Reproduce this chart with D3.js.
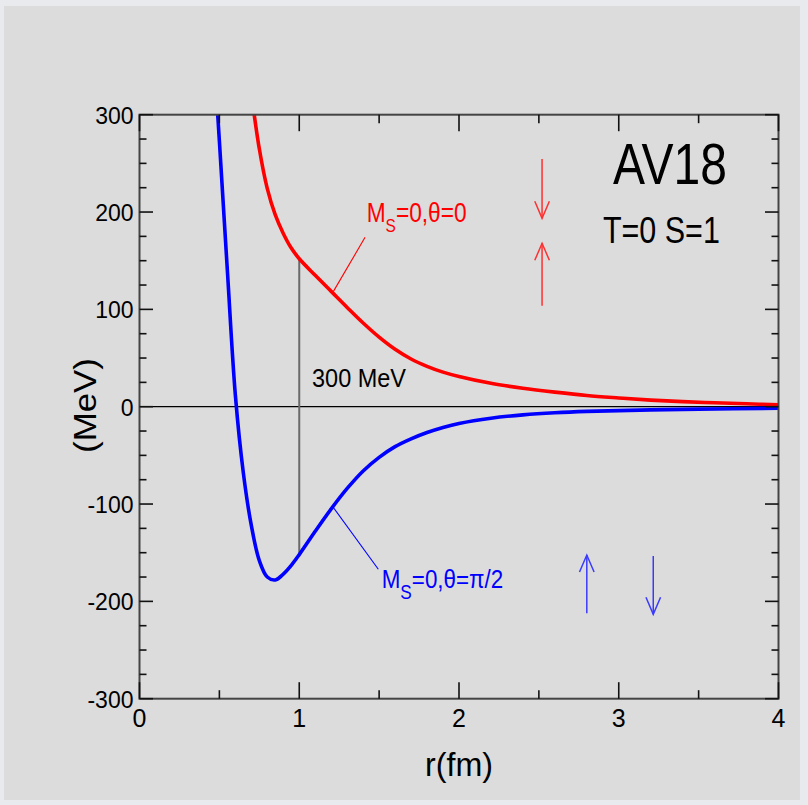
<!DOCTYPE html>
<html><head><meta charset="utf-8">
<script src="https://cdn.jsdelivr.net/npm/d3@7"></script>
<style>
html,body{margin:0;padding:0;background:#e8eaee;}
svg{display:block;}
text{font-family:"Liberation Sans",Arial,Helvetica,sans-serif;}
</style></head>
<body>
<svg id="chart" width="808" height="805"></svg>
<script>
// ---- data ----
const rRed  = [0.70,0.75,0.80,0.85,0.90,0.95,1.00,1.10,1.20,1.30,1.40,1.50,1.60,1.70,1.80,1.90,2.00,2.20,2.40,2.60,2.80,3.00,3.20,3.40,3.60,3.80,4.00];
const vRed  = [322,265,224,197,178,163,152,135,118.5,102,86,71.5,59,49,41.5,35.5,31,24,19,15,11.5,9,6.8,5.2,4,3,2];
const rBlue = [0.47,0.50,0.55,0.60,0.65,0.70,0.75,0.80,0.85,0.90,0.95,1.00,1.10,1.20,1.30,1.40,1.50,1.60,1.70,1.80,1.90,2.00,2.20,2.40,2.60,2.80,3.00,3.20,3.50,4.00];
const vBlue = [350,273,140,12,-68,-122,-158,-175,-178,-172,-163,-152,-128,-105,-84,-66,-52,-41,-33,-26.5,-21.3,-17.2,-11.8,-8.4,-6.2,-4.8,-4,-3.3,-2.5,-1.6];
const xTicks = [0,1,2,3,4];
const xTickLabels = ["0","1","2","3","4"];
const yTicks = [300,200,100,0,-100,-200,-300];
const yTickLabels = ["300","200","100","0","-100","-200","-300"];
const xDomain = [0,4];
const yDomain = [-300,300];
const markR = 1.0; // vertical "300 MeV" marker
// arrows: [r, vFrom, vTo]
const redArrows  = [[2.52,254.5,193.6],[2.52,103.8,167.9]];
const blueArrows = [[2.80,-212.3,-152.4],[3.216,-153.4,-213.3]];
// leader lines: [r1,v1,r2,v2]
const redLeader  = [1.213,118.2,1.412,174];
const blueLeader = [1.211,-103,1.495,-167];

// ---- layout ----
const svg = d3.select("#chart");
svg.append("rect").attr("x",4).attr("y",6).attr("width",796).attr("height",794).attr("fill","#dcdcdc");

const L=139.5, R=778.5, T=114.7, B=698.7;
const x = d3.scaleLinear().domain(xDomain).range([L,R]);
const y = d3.scaleLinear().domain(yDomain).range([B,T]);

svg.append("defs").append("clipPath").attr("id","clip")
  .append("rect").attr("x",L).attr("y",T).attr("width",R-L).attr("height",B-T);

// zero line
svg.append("line").attr("x1",L).attr("x2",R).attr("y1",y(0)).attr("y2",y(0))
  .attr("stroke","#000").attr("stroke-width",1.3);

// vertical marker at r=1
const interp = (rs,vs,r)=>{ for(let i=0;i<rs.length-1;i++){ if(r>=rs[i]&&r<=rs[i+1]){const t=(r-rs[i])/(rs[i+1]-rs[i]);return vs[i]+t*(vs[i+1]-vs[i]);} } return 0; };
svg.append("line").attr("x1",x(markR)).attr("x2",x(markR))
  .attr("y1",y(interp(rRed,vRed,markR))).attr("y2",y(interp(rBlue,vBlue,markR)))
  .attr("stroke","#6a6a6a").attr("stroke-width",2);

// curves
const line = d3.line().curve(d3.curveCatmullRom.alpha(0.5)).x(d=>x(d[0])).y(d=>y(d[1]));
const g = svg.append("g").attr("clip-path","url(#clip)");
g.append("path").datum(d3.zip(rRed,vRed)).attr("d",line).attr("fill","none").attr("stroke","#ff0000").attr("stroke-width",3.6);
g.append("path").datum(d3.zip(rBlue,vBlue)).attr("d",line).attr("fill","none").attr("stroke","#0000ff").attr("stroke-width",3.6);

// frame & ticks
svg.append("rect").attr("x",L).attr("y",T).attr("width",R-L).attr("height",B-T)
  .attr("fill","none").attr("stroke","#444").attr("stroke-width",2);
const tk = svg.append("g").attr("stroke","#111").attr("stroke-width",1.6);
const xMinor = d3.range(0,4.001,0.5);
xMinor.forEach(v=>{
  const major = Math.abs(v-Math.round(v))<1e-6;
  const len = major?16.5:8.5;
  tk.append("line").attr("x1",x(v)).attr("x2",x(v)).attr("y1",B).attr("y2",B-len);
  tk.append("line").attr("x1",x(v)).attr("x2",x(v)).attr("y1",T).attr("y2",T+len);
});
const yMinor = d3.range(-300,300.001,25);
yMinor.forEach(v=>{
  const major = v%100===0;
  const len = major?13.5:7;
  tk.append("line").attr("x1",L).attr("x2",L+len).attr("y1",y(v)).attr("y2",y(v));
  tk.append("line").attr("x1",R).attr("x2",R-len).attr("y1",y(v)).attr("y2",y(v));
});

// tick labels
yTicks.forEach((v,i)=>{
  svg.append("text").attr("x",L-6).attr("y",y(v)+9).attr("text-anchor","end")
    .attr("font-size",23).attr("fill","#000").text(yTickLabels[i]);
});
xTicks.forEach((v,i)=>{
  svg.append("text").attr("x",x(v)).attr("y",B+28).attr("text-anchor","middle")
    .attr("font-size",25).attr("fill","#000").text(xTickLabels[i]);
});

// helper: fit text to width via horizontal scale
function fit(sel, targetW, ax, ay){
  const w = sel.node().getComputedTextLength();
  const s = targetW/w;
  sel.attr("x",0).attr("y",0).attr("transform",`translate(${ax},${ay}) scale(${s},1)`);
}
function fitRot(sel, targetW, cx, by){
  const w = sel.node().getComputedTextLength();
  const s = targetW/w;
  sel.attr("x",0).attr("y",0).attr("text-anchor","middle").attr("transform",`translate(${by},${cx}) rotate(-90) scale(${s},1)`);
}

// axis titles
fit(svg.append("text").attr("font-size",34).attr("text-anchor","middle").attr("fill","#000").text("r(fm)"), 68, x(2), 776);
fitRot(svg.append("text").attr("font-size",32).attr("fill","#000").text("(MeV)"), 95, 405.5, 96);

// annotations
fit(svg.append("text").attr("font-size",57).attr("fill","#000").text("AV18"), 114, x(2.964), y(228.3));
fit(svg.append("text").attr("font-size",37).attr("fill","#000").text("T=0 S=1"), 117, x(2.901), y(168.5));
fit(svg.append("text").attr("font-size",25.5).attr("fill","#000").text("300 MeV"), 94, x(1.08), y(20.5));

function msLabel(color, fs, sfs, dy, rest){
  const t = svg.append("text").attr("fill",color).attr("font-size",fs);
  t.append("tspan").text("M");
  t.append("tspan").attr("font-size",sfs).attr("dy",dy).text("S");
  t.append("tspan").attr("dy",-dy).text(rest);
  return t;
}
fit(msLabel("#ff0000",28,19,10,"=0,θ=0"), 100, x(1.422), y(189.5));
fit(msLabel("#0000ff",26,20,11,"=0,θ=π/2"), 121.6, x(1.516), y(-186.6));

svg.append("line").attr("x1",x(redLeader[0])).attr("y1",y(redLeader[1])).attr("x2",x(redLeader[2])).attr("y2",y(redLeader[3]))
  .attr("stroke","#ff0000").attr("stroke-width",1.1);
svg.append("line").attr("x1",x(blueLeader[0])).attr("y1",y(blueLeader[1])).attr("x2",x(blueLeader[2])).attr("y2",y(blueLeader[3]))
  .attr("stroke","#0000ff").attr("stroke-width",1.1);

function arrow(a, color){
  const xa=x(a[0]), y0=y(a[1]), y1=y(a[2]);
  const dir = Math.sign(y1-y0);
  const hl=17, hw=7.3;
  svg.append("line").attr("x1",xa).attr("x2",xa).attr("y1",y0).attr("y2",y1).attr("stroke",color).attr("stroke-width",1.5);
  svg.append("path").attr("d",`M${xa-hw},${y1-dir*hl}L${xa},${y1}L${xa+hw},${y1-dir*hl}`)
    .attr("fill","none").attr("stroke",color).attr("stroke-width",1.5);
}
redArrows.forEach(a=>arrow(a,"#ff3030"));
blueArrows.forEach(a=>arrow(a,"#3a3aff"));
</script>
</body></html>
